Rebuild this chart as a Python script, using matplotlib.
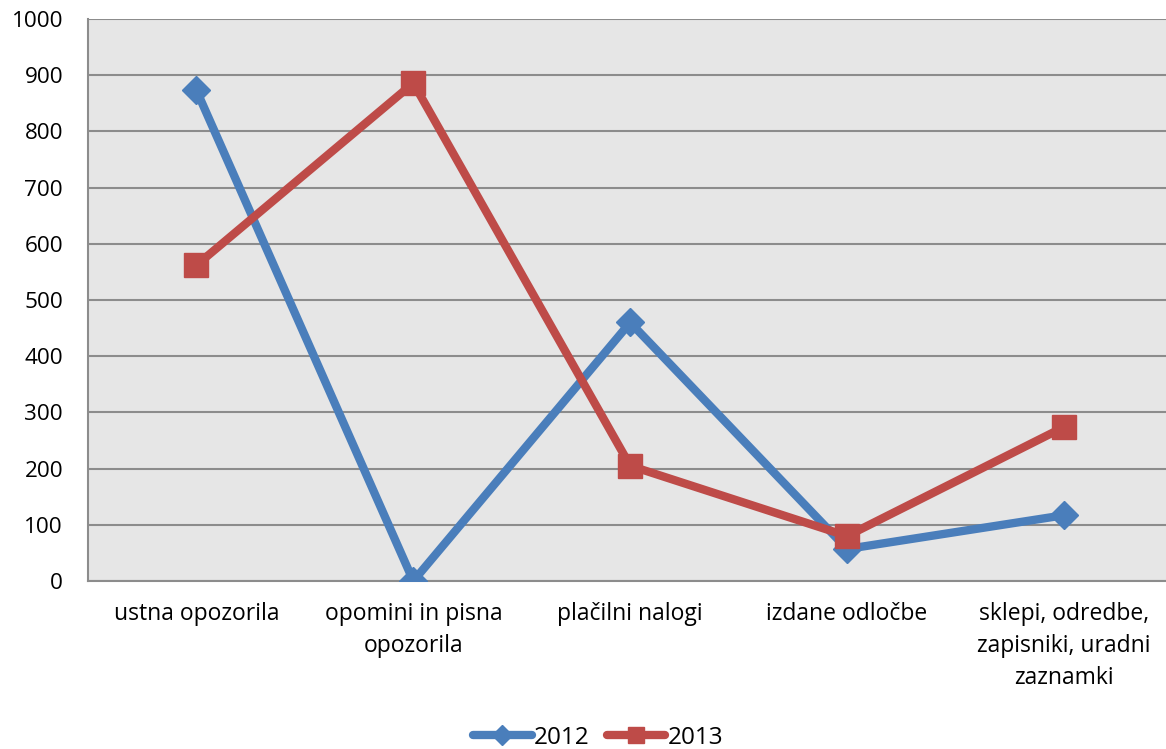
import matplotlib.pyplot as plt

categories = ['ustna opozorila', 'opomini in pisna\nopozorila', 'plačilni nalogi',
              'izdane odločbe', 'sklepi, odredbe,\nzapisniki, uradni\nzaznamki']
values_2012 = [873, 0, 460, 57, 117]
values_2013 = [562, 886, 205, 80, 274]
yticks = [0, 100, 200, 300, 400, 500, 600, 700, 800, 900, 1000]

plt.rcParams['font.family'] = ['Open Sans', 'DejaVu Sans']

fig = plt.figure(figsize=(11.66, 7.49), dpi=100)
ax = fig.add_axes([0.0755, 0.2243, 0.93, 0.7503])
ax.set_facecolor('#e6e6e6')

x = list(range(len(categories)))
ax.plot(x, values_2012, color='#4a7ebb', lw=6, marker='D', markersize=14,
        label='2012', solid_capstyle='round', zorder=3)
ax.plot(x, values_2013, color='#be4b48', lw=6, marker='s', markersize=17,
        label='2013', solid_capstyle='round', zorder=4)

ax.set_xlim(-0.5, 4.5)
ax.set_ylim(0, 1000)
ax.set_yticks(yticks)
ax.set_yticklabels([str(v) for v in yticks], fontsize=16.2)
ax.set_xticks(x)
ax.set_xticklabels(categories, fontsize=16.5, linespacing=1.45)
ax.tick_params(axis='both', length=0)
ax.tick_params(axis='x', pad=15)
ax.tick_params(axis='y', pad=18)
ax.yaxis.grid(True, color='#8c8c8c', lw=1.5)
ax.set_axisbelow(True)
for side in ['top', 'right']:
    ax.spines[side].set_visible(False)
ax.spines['left'].set_color('#8c8c8c')
ax.spines['left'].set_linewidth(1.5)
ax.spines['bottom'].set_color('#8c8c8c')
ax.spines['bottom'].set_linewidth(1.5)

fig.legend(loc='center', bbox_to_anchor=(0.513, 0.015), ncol=2, frameon=False,
           fontsize=17.5, handlelength=2.4, handletextpad=0.1, columnspacing=0.7,
           markerscale=0.7, borderaxespad=0)

fig.savefig('out.png', dpi=100)
